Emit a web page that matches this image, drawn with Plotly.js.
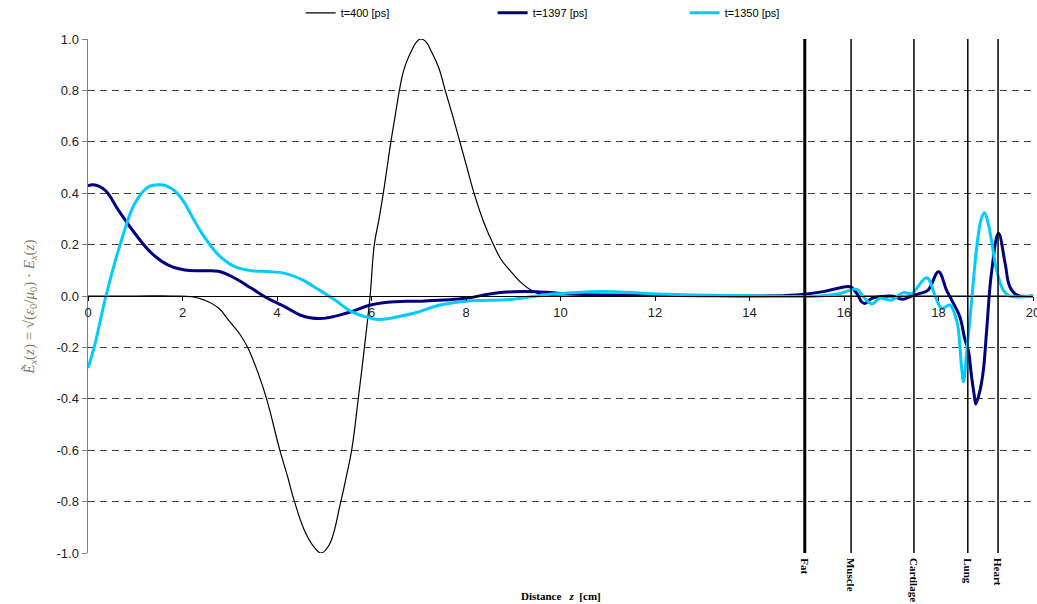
<!DOCTYPE html>
<html>
<head>
<meta charset="utf-8">
<script src="https://cdn.plot.ly/plotly-3.0.1.min.js"></script>
<style>html,body{margin:0;padding:0;background:#fff;}#chart{width:1037px;height:604px;}</style>
</head>
<body>
<div id="chart"></div>
<script>
// ---- data ----
const seriesNames = ["t=400 [ps]", "t=1397 [ps]", "t=1350 [ps]"];

const z400 = [0,1,1.8,2.2,2.45,2.75,3,3.2,3.38,3.6,3.78,4.06,4.22,4.37,4.6,4.8,4.93,5.1,5.35,5.47,5.58,5.72,5.85,5.97,6.06,6.16,6.25,6.33,6.41,6.5,6.59,6.67,6.74,6.85,6.95,7.04,7.15,7.27,7.42,7.56,7.72,7.87,8.02,8.17,8.37,8.58,8.75,8.93,9.18,9.4,9.63,10,12,20];
const v400 = [0,0,0,-0.003,-0.015,-0.045,-0.1,-0.145,-0.2,-0.3,-0.4,-0.6,-0.7,-0.8,-0.92,-0.98,-1.0,-0.97,-0.8,-0.7,-0.6,-0.4,-0.2,0,0.2,0.3,0.4,0.5,0.6,0.7,0.8,0.87,0.91,0.955,0.988,1.0,0.99,0.95,0.89,0.8,0.7,0.6,0.5,0.4,0.29,0.2,0.14,0.1,0.05,0.02,0.005,0,0,0];

const z1397 = [0,0.11,0.36,0.64,0.99,1.35,1.7,2.05,2.4,2.76,3.11,3.46,3.8,4.2,4.5,4.9,5.5,6,6.5,7,8,8.5,9,9.5,10,10.5,11,12,13,14,15,15.56,15.92,16.13,16.27,16.37,16.44,16.59,16.76,17.01,17.25,17.39,17.61,17.78,18.0,18.17,18.28,18.45,18.56,18.63,18.7,18.76,18.79,18.88,18.95,19.02,19.12,19.27,19.41,19.51,19.66,20];
const v1397 = [0.428,0.433,0.412,0.335,0.244,0.166,0.12,0.101,0.098,0.096,0.069,0.03,-0.009,-0.045,-0.075,-0.088,-0.065,-0.034,-0.022,-0.02,-0.009,0.008,0.017,0.017,0.01,0.006,0.004,0.003,0.001,0,0.004,0.017,0.032,0.036,0.01,-0.022,-0.029,-0.009,-0.003,0,-0.013,-0.003,0.01,0.023,0.094,0.023,-0.016,-0.08,-0.17,-0.21,-0.314,-0.39,-0.42,-0.366,-0.288,-0.132,0.088,0.244,0.127,0.036,0.004,0];

const z1350 = [0,0.13,0.38,0.68,0.99,1.28,1.55,1.7,1.83,1.95,2.05,2.2,2.41,2.76,3.11,3.46,3.8,4.17,4.52,4.87,5.23,5.58,6,6.18,6.89,7.45,8,9,9.64,10.06,10.62,11.12,11.82,12.88,14.29,15.13,15.56,15.92,16.27,16.41,16.59,16.76,17.0,17.25,17.43,17.75,17.93,18.07,18.24,18.38,18.42,18.49,18.53,18.6,18.67,18.74,18.81,18.9,18.97,19.05,19.12,19.23,19.37,19.51,20];
const v1350 = [-0.28,-0.2,0,0.2,0.36,0.425,0.433,0.425,0.41,0.386,0.36,0.31,0.244,0.16,0.114,0.098,0.095,0.088,0.065,0.026,-0.016,-0.061,-0.087,-0.091,-0.067,-0.035,-0.02,-0.013,0.004,0.01,0.017,0.017,0.01,0.004,0,-0.002,0.001,0.01,0.026,-0.003,-0.031,-0.009,-0.016,0.013,0.01,0.071,0.0,-0.048,-0.035,-0.093,-0.13,-0.28,-0.333,-0.21,-0.08,0.062,0.192,0.296,0.324,0.284,0.218,0.101,0.023,0,0];

const tissueNames = ["Fat", "Muscle", "Cartilage", "Lung", "Heart"];
const tissuePos = [15.17, 16.15, 17.48, 18.62, 19.26];

const xTicks = [0,2,4,6,8,10,12,14,16,18,20];
const yTicks = [-1,-0.8,-0.6,-0.4,-0.2,0,0.2,0.4,0.6,0.8,1];

// ---- chart ----
const traces = [
  {x: z400, y: v400, name: seriesNames[0], mode: "lines",
   line: {color: "#000000", width: 1.2, shape: "spline", smoothing: 1.2, simplify: false}},
  {x: z1397, y: v1397, name: seriesNames[1], mode: "lines",
   line: {color: "#000080", width: 3, shape: "spline", smoothing: 1.1, simplify: false}},
  {x: z1350, y: v1350, name: seriesNames[2], mode: "lines",
   line: {color: "#00CCFF", width: 3, shape: "spline", smoothing: 1.1, simplify: false}}
];

const shapes = tissuePos.map((p, i) => ({
  type: "line", xref: "x", yref: "paper", x0: p, x1: p, y0: 0, y1: 1,
  line: {color: "#000000", width: i === 0 ? 3 : 1.5}, layer: "above"
}));

const annotations = tissuePos.map((p, i) => ({
  x: p, xref: "x", y: 0, yref: "paper", yshift: -3,
  text: "<b>" + tissueNames[i] + "</b>", textangle: 90,
  xanchor: "center", yanchor: "top", showarrow: false,
  font: {family: "Liberation Serif, Times New Roman, serif", size: 11, color: "#000"}
}));
annotations.push({
  x: 0.5, xref: "paper", y: -0.083, yref: "paper",
  text: "<b>Distance   <i>z</i>  [cm]</b>", showarrow: false,
  xanchor: "center", yanchor: "middle",
  font: {family: "Liberation Serif, Times New Roman, serif", size: 11, color: "#000"}
});
annotations.push({
  x: -0.0614, xref: "paper", y: 0.479, yref: "paper",
  text: "<i>Ẽ<sub>x</sub></i>(<i>z</i>) = √(<i>ε</i><sub>0</sub>/<i>μ</i><sub>0</sub>) · <i>E<sub>x</sub></i>(<i>z</i>)",
  textangle: -90, showarrow: false, xanchor: "center", yanchor: "middle",
  font: {family: "Liberation Serif, Times New Roman, serif", size: 15, color: "#86785a"}
});

const layout = {
  width: 1037, height: 604,
  margin: {l: 88, r: 4, t: 39, b: 51, autoexpand: false},
  paper_bgcolor: "#ffffff", plot_bgcolor: "#ffffff",
  showlegend: true,
  legend: {orientation: "h", x: 0.225, xanchor: "left", y: 1.051, yanchor: "middle",
           entrywidth: 147, font: {family: "Liberation Sans, Arial, sans-serif", size: 11, color: "#000"}},
  xaxis: {range: [0, 20], anchor: "free", position: 0.5, showline: true, linecolor: "#000", linewidth: 1,
          ticks: "outside", ticklen: 4, tickcolor: "#000", tickvals: xTicks, ticktext: xTicks.map(String),
          showgrid: false, zeroline: false, automargin: false, ticklabeloverflow: "allow",
          tickfont: {family: "Liberation Sans, Arial, sans-serif", size: 13, color: "#222"}},
  yaxis: {range: [-1, 1], showline: true, linecolor: "#808080", linewidth: 1.5, automargin: false,
          ticks: "outside", ticklen: 5, tickcolor: "#808080", tickvals: yTicks,
          ticktext: yTicks.map(v => v.toFixed(1)),
          showgrid: true, gridcolor: "#404040", griddash: "7px,5px", gridwidth: 1, zeroline: false,
          tickfont: {family: "Liberation Sans, Arial, sans-serif", size: 13, color: "#222"}},
  shapes: shapes,
  annotations: annotations
};

Plotly.newPlot("chart", traces, layout, {displayModeBar: false, staticPlot: true});
</script>
</body>
</html>
